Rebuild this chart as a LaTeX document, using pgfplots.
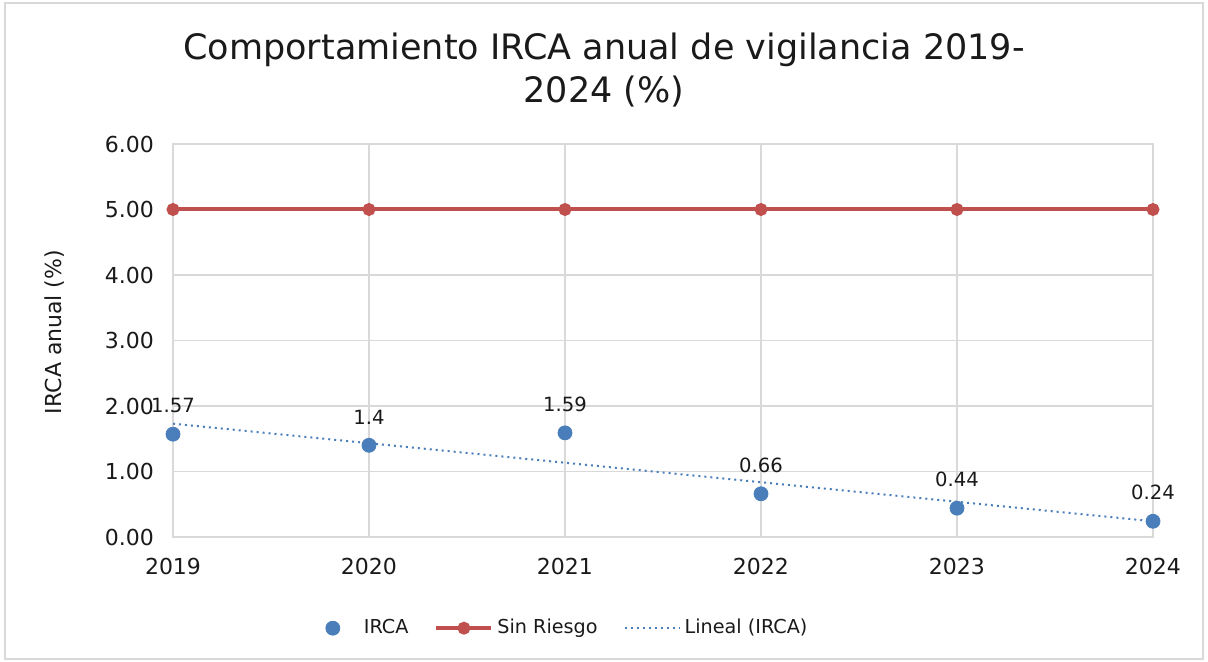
\documentclass[border=0pt]{standalone}
\usepackage{fontspec}
\setmainfont{DejaVu Sans}
\usepackage{pgfplots}
\pgfplotsset{compat=1.18}
\definecolor{irca}{HTML}{4A7EBB}
\definecolor{riesgo}{HTML}{C0504D}
\definecolor{marco}{HTML}{D9D9D9}
\definecolor{texto}{HTML}{1A1A1A}

\begin{document}
\begin{tikzpicture}
% page and outer frame (1px = 0.5pt)
\path (0pt,0pt) rectangle (604pt,-331pt);
\draw[marco, line width=1pt] (2.5pt,-1.5pt) rectangle (601.5pt,-329.5pt);
\node[font=\fontsize{17.5}{21}\selectfont, text=texto, anchor=base] at (302pt,-30pt) {Comportamiento IRCA anual de vigilancia 2019-};
\node[font=\fontsize{17.5}{21}\selectfont, text=texto, anchor=base] at (302pt,-51.5pt) {2024 (\%)};
\node[font=\fontsize{11}{13}\selectfont, text=texto, rotate=90] at (27.5pt,-166pt) {IRCA anual (\%)};

\begin{axis}[at={(86.5pt,-268.5pt)}, anchor=south west,
  scale only axis, width=490pt, height=196.5pt,
  xmin=2019, xmax=2024, ymin=0, ymax=6,
  xtick={2019,...,2024}, ytick={0,1,...,6},
  grid=major, major grid style={marco, line width=0.75pt},
  axis line style={marco, line width=0.75pt}, major tick length=0pt,
  tick label style={font=\fontsize{11}{13}\selectfont, text=texto},
  /pgf/number format/assume math mode=true,
  xticklabel style={/pgf/number format/1000 sep={}, yshift=-7pt},
  yticklabel style={/pgf/number format/.cd, fixed, fixed zerofill, precision=2, /tikz/.cd, xshift=-6pt},
  clip=false,
  legend columns=3,
  legend style={draw=none, fill=none, font=\fontsize{9.6}{12}\selectfont, text=texto,
    at={(axis description cs:0.393,-0.232)}, anchor=center,
    /tikz/every even column/.append style={column sep=11pt}},
  legend image code/.code={\draw[mark repeat=2, mark phase=2] plot coordinates {(0pt,0pt) (13.75pt,0pt) (27.5pt,0pt)};},
]
\addplot[only marks, mark=*, mark size=3.5pt, irca,
  nodes near coords, point meta=explicit symbolic,
  every node near coord/.append style={font=\fontsize{9.8}{12}\selectfont, text=texto, anchor=south, yshift=7pt},
  legend image code/.code={\path[draw=none] (0pt,0pt) -- (27.5pt,0pt); \draw plot coordinates {(14pt,0pt)};}]
  coordinates {(2019,1.57)[1.57] (2020,1.4)[1.4] (2021,1.59)[1.59] (2022,0.66)[0.66] (2023,0.44)[0.44] (2024,0.24)[0.24]};
\addlegendentry{IRCA}
\addplot[riesgo, line width=2pt, mark=*, mark size=2.2pt]
  coordinates {(2019,5) (2020,5) (2021,5) (2022,5) (2023,5) (2024,5)};
\addlegendentry{Sin Riesgo}
\addplot[irca, line width=1pt, dash pattern=on 1pt off 2pt]
  coordinates {(2019,1.73) (2024,0.24)};
\addlegendentry{Lineal (IRCA)}
\end{axis}
\end{tikzpicture}
\end{document}
